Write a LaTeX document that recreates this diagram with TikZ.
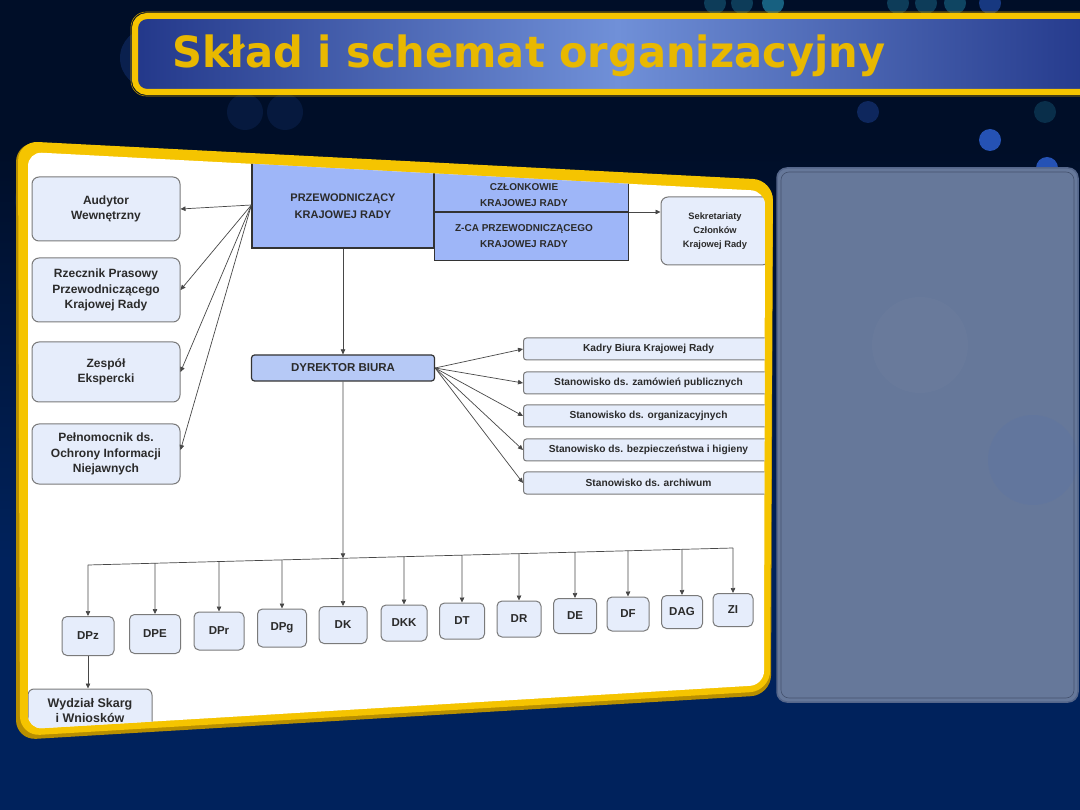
\documentclass[tikz,border=0pt]{standalone}
\usepackage{graphicx}
\usepackage{fontspec}
\setmainfont{Liberation Sans}
\newfontfamily\titlefont{DejaVu Sans}
\usetikzlibrary{arrows.meta,calc}
\definecolor{bgtop}{HTML}{000E28}
\definecolor{bgbot}{HTML}{00225C}
\definecolor{gold}{HTML}{F5C400}
\definecolor{goldd}{HTML}{B88F00}
\definecolor{titleL}{HTML}{23388A}
\definecolor{titleM}{HTML}{7090D8}
\definecolor{boxfill}{HTML}{E6EDFB}
\definecolor{boxline}{HTML}{7A7A7A}
\definecolor{headfill}{HTML}{9EB6F8}
\definecolor{dirfill}{HTML}{B6C9F6}
\definecolor{txt}{HTML}{2B2B2B}
\definecolor{sidepanel}{HTML}{66789A}
\definecolor{sideline}{HTML}{55668A}
\definecolor{bokeh}{HTML}{2F63D8}
\definecolor{teal}{HTML}{1A6A8A}
\definecolor{titlegold}{HTML}{E8B800}
\begin{document}
\begin{tikzpicture}[x=1pt,y=-1pt,
  arr/.style={draw=black!72, line width=0.7pt, -{Triangle[length=5pt,width=4.5pt]}},
  lbox/.style={draw=boxline, fill=boxfill, rounded corners=7pt, line width=1pt, text=txt,
    font=\bfseries\fontsize{12}{15.5}\selectfont, align=center, minimum width=148pt, inner sep=2pt},
  head/.style={draw=black!80, fill=headfill, line width=1.2pt, inner sep=0pt},
  headtxt/.style={text=txt, font=\bfseries\fontsize{11}{16.5}\selectfont, align=center, inner sep=0pt},
  dirbox/.style={draw=black!80, fill=dirfill, line width=1.2pt, rounded corners=3pt, text=txt,
    font=\bfseries\fontsize{11.5}{12}\selectfont, inner sep=0pt},
  sekbox/.style={draw=boxline, fill=boxfill, rounded corners=7pt, line width=1pt, text=txt,
    font=\bfseries\fontsize{9.3}{14}\selectfont, align=center, inner sep=0pt},
  rbox/.style={draw=boxline, fill=boxfill, rounded corners=3pt, line width=1pt, text=txt,
    font=\bfseries\fontsize{10.2}{11}\selectfont, minimum width=250pt, minimum height=22pt,
    anchor=west, inner sep=0pt},
  bbox/.style={draw=boxline, fill=boxfill, rounded corners=5pt, line width=1pt, text=txt,
    font=\bfseries\fontsize{11.5}{13}\selectfont, inner sep=0pt},
]
\useasboundingbox (0,0) rectangle (1080,810);
% background
\fill[bgtop] (0,0) rectangle (1080,150);
\fill[top color=bgtop, bottom color=bgbot] (0,150) rectangle (1080,560);
\fill[bgbot] (0,560) rectangle (1080,810);
% bokeh
\foreach \cx/\cy/\r/\c/\o in {150/58/30/bokeh/0.22, 245/112/18/bokeh/0.13, 285/112/18/bokeh/0.13,
  868/112/11/bokeh/0.3, 1045/112/11/teal/0.35, 990/140/11/bokeh/0.8, 1047/168/11/bokeh/0.8,
  1047/197/11/bokeh/0.6, 1047/224/10/bokeh/0.3, 715/3/11/teal/0.5, 742/3/11/teal/0.5,
  773/3/11/teal/0.9, 898/3/11/teal/0.5, 926/3/11/teal/0.5, 955/3/11/teal/0.6, 990/3/11/bokeh/0.5,
  45/200/30/bokeh/0.1}
  \fill[\c, opacity=\o] (\cx,\cy) circle[radius=\r];
% title bar
\draw[gold, line width=6pt, rounded corners=12pt, left color=titleL, right color=titleL, middle color=titleM]
  (135,16) rectangle (1100,92);
\draw[goldd, line width=0.6pt, rounded corners=15pt] (131,12) rectangle (1104,96);
\node[anchor=base west, inner sep=0pt, text=titlegold, font=\titlefont\bfseries\fontsize{43}{43}\selectfont]
  (title) at (172,68) {\resizebox{713pt}{\height}{Skład i schemat organizacyjny}};
% right panel
\draw[fill=sidepanel, draw=sideline, line width=1.5pt, rounded corners=10pt] (777,168) rectangle (1078,702);
\draw[draw=sideline!80!black, line width=0.6pt, rounded corners=8pt] (781,172) rectangle (1074,698);
\fill[white, opacity=0.02] (920,345) circle[radius=48];
\fill[bokeh, opacity=0.06] (1033,460) circle[radius=45];
% main panel
\fill[goldd, rounded corners=20pt] (16,142) -- (773,181) -- (771,695) -- (16,740) -- cycle;
\fill[gold, rounded corners=20pt] (18,141) -- (773,180) -- (770,691) -- (20,736) -- cycle;
\fill[white, rounded corners=14pt] (28,152) -- (765,191) -- (764,685) -- (28,729) -- cycle;
\begin{scope}
\clip[rounded corners=14pt] (28,152) -- (765,191) -- (764,685) -- (28,729) -- cycle;
% left column
\node[lbox, minimum height=64pt] (aud) at (106,209) {Audytor\\Wewnętrzny};
\node[lbox, minimum height=64pt] (rzecz) at (106,290) {Rzecznik Prasowy\\Przewodniczącego\\Krajowej Rady};
\node[lbox, minimum height=60pt] (zesp) at (106,372) {Zespół\\Ekspercki};
\node[lbox, minimum height=60pt] (peln) at (106,454) {Pełnomocnik ds.\\Ochrony Informacji\\Niejawnych};
% head boxes
\node[head, minimum width=182pt, minimum height=86pt] (prz) at (343,205) {};
\node[headtxt] at (343,206) {PRZEWODNICZĄCY\\KRAJOWEJ RADY};
\node[head, minimum width=194pt, minimum height=42pt, anchor=south west] (czl) at (434,212) {};
\node[headtxt, font=\bfseries\fontsize{10}{16}\selectfont] at (524,195) {CZŁONKOWIE\\KRAJOWEJ RADY};
\node[head, minimum width=194pt, minimum height=48pt, anchor=north west] (zca) at (434,212) {};
\node[headtxt, font=\bfseries\fontsize{10}{16}\selectfont] at (524,236) {Z-CA PRZEWODNICZĄCEGO\\KRAJOWEJ RADY};
\node[sekbox, minimum width=108pt, minimum height=68pt] (sek) at (715,231) {Sekretariaty\\Członków\\Krajowej Rady};
\draw[arr] (czl.south east) -- (sek.west |- czl.south east);
% arrows to left column
\draw[arr] (prz.west) -- (aud.east);
\draw[arr] (prz.west) -- (rzecz.east);
\draw[arr] (prz.west) -- (zesp.east);
\draw[arr] (prz.west) -- ($(peln.east)+(0,-4)$);
% director
\node[dirbox, minimum width=183pt, minimum height=26pt] (dyr) at (343,368) {DYREKTOR BIURA};
\draw[arr] (prz.south) -- (dyr.north);
% right list
\node[rbox] (kad) at (523,349) {Kadry Biura Krajowej Rady};
\node[rbox] (zam) at (523,383) {Stanowisko ds. zamówień publicznych};
\node[rbox] (org) at (523,416) {Stanowisko ds. organizacyjnych};
\node[rbox] (bhp) at (523,450) {Stanowisko ds. bezpieczeństwa i higieny};
\node[rbox] (arc) at (523,483) {Stanowisko ds. archiwum};
\foreach \n in {kad,zam,org,bhp,arc} \draw[arr] (dyr.east) -- (\n.west);
% bottom row
\node[bbox, minimum width=52pt, minimum height=39pt] (dpz) at (88,636) {DPz};
\node[bbox, minimum width=51pt, minimum height=39pt] (dpe) at (155,634) {DPE};
\node[bbox, minimum width=50pt, minimum height=38pt] (dpr) at (219,631) {DPr};
\node[bbox, minimum width=49pt, minimum height=38pt] (dpg) at (282,628) {DPg};
\node[bbox, minimum width=48pt, minimum height=37pt] (dk) at (343,625) {DK};
\node[bbox, minimum width=46pt, minimum height=36pt] (dkk) at (404,623) {DKK};
\node[bbox, minimum width=45pt, minimum height=36pt] (dt) at (462,621) {DT};
\node[bbox, minimum width=44pt, minimum height=36pt] (dr) at (519,619) {DR};
\node[bbox, minimum width=43pt, minimum height=35pt] (de) at (575,616) {DE};
\node[bbox, minimum width=42pt, minimum height=34pt] (df) at (628,614) {DF};
\node[bbox, minimum width=41pt, minimum height=33pt] (dag) at (682,612) {DAG};
\node[bbox, minimum width=40pt, minimum height=33pt] (zi) at (733,610) {ZI};
\coordinate (busL) at (88,565);
\coordinate (busR) at (733,548);
\draw[draw=black!72, line width=0.7pt] (busL) -- (busR);
\draw[arr] (dyr.south) -- (intersection of busL--busR and dyr.south--dk.north);
\foreach \n in {dpz,dpe,dpr,dpg,dk,dkk,dt,dr,de,df,dag,zi}
  \draw[arr] (intersection of busL--busR and \n.north--\n.south) -- (\n.north);
\node[bbox, font=\bfseries\fontsize{12.5}{15}\selectfont, align=center, minimum width=124pt, minimum height=44pt, rounded corners=6pt]
  (wyd) at (90,711) {Wydział Skarg\\i Wniosków};
\draw[arr] (dpz.south) -- (dpz.south |- wyd.north);
\end{scope}
\end{tikzpicture}
\end{document}
